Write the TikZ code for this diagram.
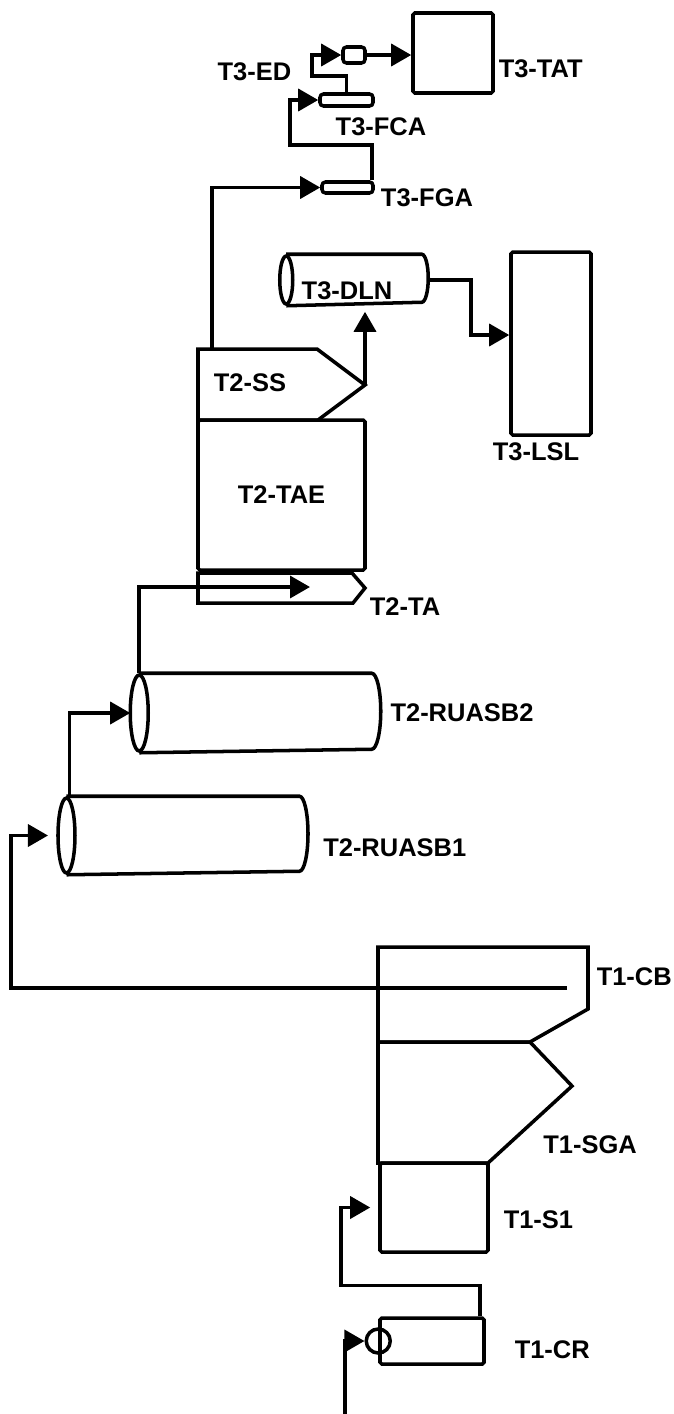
\documentclass[tikz,border=0pt]{standalone}
\usepackage{fontspec}
\setmainfont{Liberation Sans}
\usetikzlibrary{positioning, arrows.meta}
\newcommand{\tankline}[3]{%
  \draw (#1.west) ellipse[x radius=#2, y radius=#3];
  \draw (#1.north west) -- (#1.north east) arc[start angle=90, end angle=-90, x radius=#2, y radius=#3] -- (#1.south west);}

\begin{document}
\begin{tikzpicture}[
  line width=2pt,
  unit/.style={rectangle, draw, inner sep=0pt, rounded corners=1pt},
  slot/.style={rectangle, draw, inner sep=0pt, rounded corners=2pt},
  tank/.style={rectangle, inner sep=0pt},
  tag/.style={inner sep=0pt, font=\fontsize{14.5}{16}\selectfont\bfseries},
  flow/.style={-{Triangle[length=0.40cm, width=0.44cm]}}
]
  \useasboundingbox (0,0) rectangle (13.48,-28.28);

  % T3: treatment line at the top
  \node[unit, minimum width=1.6cm, minimum height=1.6cm] (tat) at (9.06,-1.06) {};
  \node[tag, anchor=west] (tatlbl) at (9.94,-1.38) {T3-TAT};
  \node[slot, minimum width=0.44cm, minimum height=0.32cm] (ed) at (7.08,-1.10) {};
  \node[tag, anchor=east] (edlbl) at (5.86,-1.44) {T3-ED};
  \node[slot, minimum width=1.06cm, minimum height=0.24cm] (fca) at (6.93,-2.00) {};
  \node[tag] (fcalbl) at (7.62,-2.54) {T3-FCA};
  \node[slot, minimum width=1.02cm, minimum height=0.22cm] (fga) at (6.95,-3.75) {};
  \node[tag] (fgalbl) at (8.54,-3.96) {T3-FGA};
  \node[tank, minimum width=2.64cm, minimum height=0.96cm] (dln) at (7.08,-5.60) {};
  \tankline{dln}{0.13}{0.48}
  \node[tag] (dlnlbl) at (6.94,-5.82) {T3-DLN};
  \node[unit, minimum width=1.6cm, minimum height=3.66cm] (lsl) at (11.02,-6.87) {};
  \node[tag] (lsllbl) at (10.72,-9.04) {T3-LSL};

  % T2: settling and anaerobic stage
  \draw (3.96,-6.98) -- (6.34,-6.98) -- (7.30,-7.70) -- (6.36,-8.40) -- (3.96,-8.40) -- cycle;
  \coordinate (ssout) at (4.24,-6.98);
  \coordinate (sstip) at (7.30,-7.70);
  \node[tag] (sslbl) at (5.00,-7.66) {T2-SS};
  \node[unit, tag, minimum width=3.34cm, minimum height=3.0cm] (tae) at (5.63,-9.90) {T2-TAE};
  \draw (3.96,-11.46) -- (7.04,-11.46) -- (7.30,-11.76) -- (7.06,-12.06) -- (3.96,-12.06) -- cycle;
  \coordinate (tain) at (6.20,-11.74);
  \node[tag] (talbl) at (8.10,-12.14) {T2-TA};
  \node[tank, minimum width=4.58cm, minimum height=1.52cm] (r2) at (5.11,-14.26) {};
  \tankline{r2}{0.18}{0.76}
  \node[tag, right=0.34cm of r2] (r2lbl) {T2-RUASB2};
  \node[tank, minimum width=4.59cm, minimum height=1.50cm] (r1) at (3.66,-16.71) {};
  \tankline{r1}{0.17}{0.75}
  \node[tag, right=0.44cm of r1, yshift=-0.25cm] (r1lbl) {T2-RUASB1};

  % T1: pretreatment at the bottom
  \draw (7.56,-18.94) -- (11.76,-18.94) -- (11.76,-20.18) -- (10.60,-20.84) -- (7.56,-20.84) -- cycle;
  \coordinate (cbout) at (11.34,-19.76);
  \node[tag, anchor=west] (cblbl) at (11.90,-19.54) {T1-CB};
  \draw (7.56,-20.84) -- (10.60,-20.84) -- (11.44,-21.72) -- (9.76,-23.26) -- (7.56,-23.26) -- cycle;
  \node[tag] (sgalbl) at (11.80,-22.90) {T1-SGA};
  \node[unit, minimum width=2.16cm, minimum height=1.78cm] (s1) at (8.68,-24.15) {};
  \node[tag, anchor=west] (s1lbl) at (10.04,-24.40) {T1-S1};
  \node[unit, minimum width=2.08cm, minimum height=0.92cm] (cr) at (8.64,-26.82) {};
  \node[circle, draw, minimum size=0.48cm, inner sep=0pt] (pump) at (cr.west) {};
  \node[tag, anchor=west] (crlbl) at (10.26,-27.00) {T1-CR};
  \coordinate (feed) at (6.90,-28.28);

  % flows
  \draw[flow] (feed) |- (pump.west);
  \draw[flow] ([xshift=-0.12cm]cr.north east) -- ++(0,0.62) -| ([xshift=-0.74cm]s1.west) -- ([xshift=-0.16cm]s1.west);
  \draw[flow] (cbout) -| ([xshift=-1.11cm]r1.west) -- ([xshift=-0.37cm]r1.west);
  \draw[flow] ([xshift=0.06cm]r1.north west) |- ([xshift=-0.18cm]r2.west);
  \draw[flow] (r2.north west) |- (tain);
  \draw[flow, shorten >=0.12cm] (sstip) -- (sstip |- dln.south);
  \draw[flow] ([xshift=0.14cm]dln.east) -- ++(0.84,0) |- ([yshift=0.17cm]lsl.west);
  \draw[flow] (ssout) |- (fga.west);
  \draw[flow] ([xshift=-0.06cm]fga.north east) -- ++(0,0.70) -| ([xshift=-0.56cm]fca.west) -- (fca.west);
  \draw[flow] (fca.north) -- ++(0,0.32) -| ([xshift=-0.58cm]ed.west) -- (ed.west);
  \draw[flow] (ed.east) -- (ed.east -| tat.west);
\end{tikzpicture}
\end{document}
